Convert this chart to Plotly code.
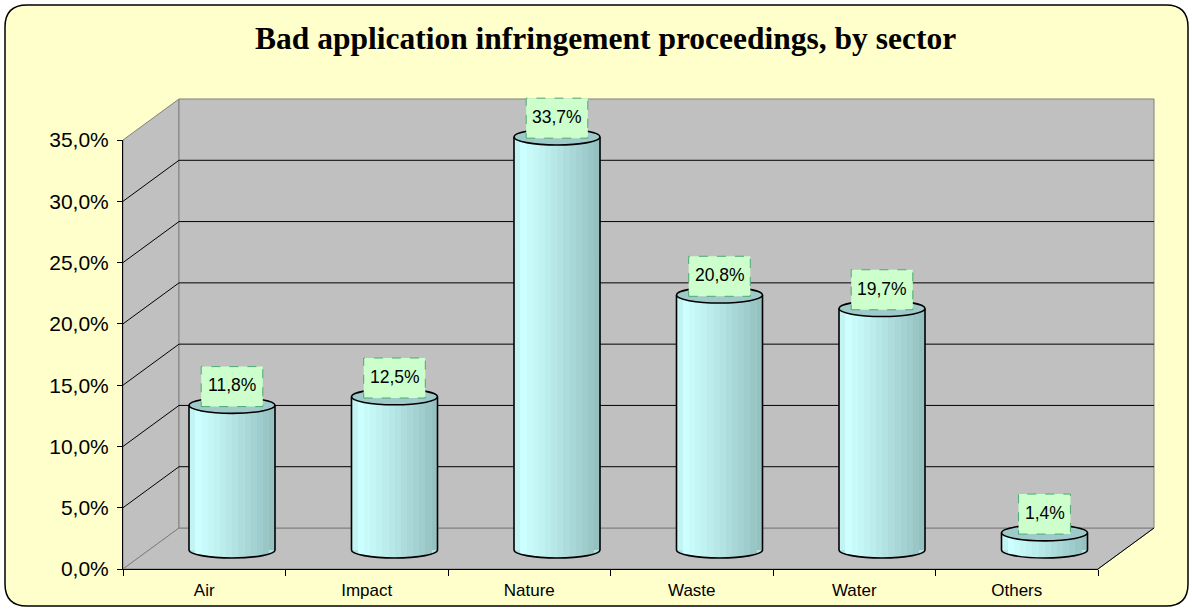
import plotly.graph_objects as go
import math

# ---------------- data ----------------
categories = ["Air", "Impact", "Nature", "Waste", "Water", "Others"]
values = [11.8, 12.5, 33.7, 20.8, 19.7, 1.4]
value_labels = ["11,8%", "12,5%", "33,7%", "20,8%", "19,7%", "1,4%"]
y_ticks = [0, 5, 10, 15, 20, 25, 30, 35]
y_tick_labels = ["0,0%", "5,0%", "10,0%", "15,0%", "20,0%", "25,0%", "30,0%", "35,0%"]
title_text = "Bad application infringement proceedings, by sector"

# ---------------- geometry (pixels) ----------------
W, H = 1192, 611
FX0, FX1 = 123, 1098      # front plane x extent
FY0 = 569                 # front plane y of 0
S = 12.257                # px per percentage point
DX, DY = 56, 41           # depth offset of the back wall
MID_X0 = 150.75           # mid-depth plane (cylinders)
MID_Y0 = 550
Y3_MIN, Y3_MAX = -3, 38


def px(x):
    return x / W


def py(y):
    return 1 - y / H


def yf(v):
    return FY0 - v * S


ymax = max(y_ticks)
n = len(categories)
cat_w = (FX1 - FX0) / n

fig = go.Figure()

# helper invisible trace so the front category axis renders
fig.add_trace(go.Scatter(x=categories, y=[0] * n, mode="markers",
                         marker=dict(opacity=0), hoverinfo="skip",
                         showlegend=False, xaxis="x", yaxis="y"))

# ---------------- cylinders as banded bars ----------------
hw = 43 / cat_w                # half width of cylinder in category units
k = 8 / S                      # ellipse half-height in value units
NB = 14
bw = 2 * hw / NB
xs = list(range(n))


def band_color(t):
    stops = [(0.0, (0xBE, 0xEE, 0xEE)), (0.1, (0xCC, 0xFF, 0xFF)),
             (0.35, (0xBF, 0xF0, 0xF0)), (1.0, (0x93, 0xBE, 0xBE))]
    for (t0, c0), (t1, c1) in zip(stops[:-1], stops[1:]):
        if t <= t1:
            f = (t - t0) / (t1 - t0)
            return "rgb(%d,%d,%d)" % tuple(round(a + (b - a) * f) for a, b in zip(c0, c1))
    return "rgb(%d,%d,%d)" % stops[-1][1]


for j in range(NB):
    a = -hw + j * bw
    b = a + bw
    m = min(max(abs(a), abs(b)) / hw, 1.0)
    base = -k * math.sqrt(max(0.0, 1 - m * m)) * 0.97
    fig.add_trace(go.Bar(
        x=xs, y=[v - base for v in values], base=base,
        width=bw * 1.02, offset=a,
        marker=dict(color=band_color((j + 0.5) / NB), line=dict(width=0)),
        hoverinfo="skip", showlegend=False, xaxis="x3", yaxis="y3"))

shapes = []

# outer rounded frame
x0, y0, x1, y1, r = 5, 5, 1188, 606, 22
path = (f"M {px(x0 + r)},{py(y0)} L {px(x1 - r)},{py(y0)} Q {px(x1)},{py(y0)} {px(x1)},{py(y0 + r)} "
        f"L {px(x1)},{py(y1 - r)} Q {px(x1)},{py(y1)} {px(x1 - r)},{py(y1)} "
        f"L {px(x0 + r)},{py(y1)} Q {px(x0)},{py(y1)} {px(x0)},{py(y1 - r)} "
        f"L {px(x0)},{py(y0 + r)} Q {px(x0)},{py(y0)} {px(x0 + r)},{py(y0)} Z")
shapes.append(dict(type="path", xref="paper", yref="paper", path=path,
                   fillcolor="#FFFFCC", line=dict(color="#000000", width=1.5), layer="below"))


def poly(pts, fill, line_color, lw=1):
    p = "M " + " L ".join(f"{px(x)},{py(y)}" for x, y in pts) + " Z"
    return dict(type="path", xref="paper", yref="paper", path=p, fillcolor=fill,
                line=dict(color=line_color, width=lw), layer="below")


top_f = yf(ymax)
shapes.append(poly([(FX0, FY0), (FX0, top_f), (FX0 + DX, top_f - DY), (FX0 + DX, FY0 - DY)],
                   "#C0C0C0", "#808080"))
shapes.append(poly([(FX0, FY0), (FX0 + DX, FY0 - DY), (FX1 + DX, FY0 - DY), (FX1, FY0)],
                   "#C0C0C0", "#808080"))
shapes.append(poly([(FX0 + DX, FY0 - DY), (FX0 + DX, top_f - DY), (FX1 + DX, top_f - DY),
                    (FX1 + DX, FY0 - DY)], "#C0C0C0", "#808080"))


def seg(xa, ya, xb, yb, color, lw=1):
    return dict(type="line", xref="paper", yref="paper", x0=px(xa), y0=py(ya), x1=px(xb), y1=py(yb),
                line=dict(color=color, width=lw), layer="below")


for v in y_ticks[1:-1]:
    yy = yf(v)
    shapes.append(seg(FX0 + DX, yy - DY, FX1 + DX, yy - DY, "#000000"))
    shapes.append(seg(FX0, yy, FX0 + DX, yy - DY, "#000000"))
shapes.append(seg(FX1, FY0, FX1 + DX, FY0 - DY, "#000000"))

# cylinder bottoms (fill), outlines, tops
kap = 0.5523
for i, v in enumerate(values):
    L, R, c = i - hw, i + hw, i
    bottom = (f"M {L},0 C {L},{-kap * k} {c - kap * hw},{-k} {c},{-k} "
              f"C {c + kap * hw},{-k} {R},{-kap * k} {R},0")
    shapes.append(dict(type="path", xref="x3", yref="y3", path=bottom + " Z",
                       fillcolor="#B4E4E4", line=dict(width=0), layer="below"))
    outline = (f"M {L},{v} L {L},0 C {L},{-kap * k} {c - kap * hw},{-k} {c},{-k} "
               f"C {c + kap * hw},{-k} {R},{-kap * k} {R},0 L {R},{v}")
    shapes.append(dict(type="path", xref="x3", yref="y3", path=outline,
                       line=dict(color="#000000", width=1.6), layer="above"))
    shapes.append(dict(type="circle", xref="x3", yref="y3", x0=L, x1=R, y0=v - k, y1=v + k,
                       fillcolor="#9FCACA", line=dict(color="#000000", width=1.6), layer="above"))

# data label boxes
annotations = []
lab_font = 17.5
char_w = {",": 0.278, "%": 0.889}
box_h = 40 / S
for i, (v, t) in enumerate(zip(values, value_labels)):
    wpx = 12 + lab_font * sum(char_w.get(ch, 0.556) for ch in t)
    half = wpx / 2 / cat_w
    shapes.append(dict(type="rect", xref="x3", yref="y3", x0=i - half, x1=i + half,
                       y0=v - 0.1, y1=v - 0.1 + box_h, fillcolor="#CCFFCC",
                       line=dict(color="#4FA874", width=1, dash="dash"), layer="above"))
    annotations.append(dict(x=i, y=v - 0.1 + box_h / 2 + 0.1, xref="x3", yref="y3", text=t,
                            showarrow=False, font=dict(size=lab_font, color="#000000"),
                            xanchor="center", yanchor="middle"))

annotations.append(dict(x=px(605), y=py(38), xref="paper", yref="paper",
                        text="<b>" + title_text + "</b>", showarrow=False,
                        font=dict(family="Liberation Serif, Times New Roman, serif", size=31.5,
                                  color="#000000"),
                        xanchor="center", yanchor="middle"))

fig.update_layout(
    template="none",
    width=W, height=H, autosize=False,
    margin=dict(l=0, r=0, t=0, b=0, pad=0, autoexpand=False),
    paper_bgcolor="#FFFFFF", plot_bgcolor="rgba(0,0,0,0)",
    font=dict(family="Liberation Sans, Arial, sans-serif", color="#000000"),
    barmode="overlay", bargap=0,
    showlegend=False,
    shapes=shapes, annotations=annotations,
    xaxis=dict(type="category", categoryorder="array", categoryarray=categories,
               domain=[px(FX0), px(FX1)], range=[-0.5, n - 0.5], anchor="y",
               showline=True, linecolor="#000000", linewidth=1, automargin=False,
               ticks="outside", tickson="boundaries", ticklen=6, tickcolor="#000000",
               tickfont=dict(size=17), ticklabelstandoff=6,
               showgrid=False, zeroline=False, fixedrange=True),
    yaxis=dict(domain=[py(FY0), py(yf(ymax))], range=[0, ymax], anchor="x",
               tickmode="array", tickvals=y_ticks, ticktext=y_tick_labels,
               showline=True, linecolor="#000000", linewidth=1, automargin=False,
               ticks="outside", ticklen=5, tickcolor="#000000",
               tickfont=dict(size=21), ticklabelstandoff=4,
               showgrid=False, zeroline=False, fixedrange=True),
    xaxis3=dict(domain=[px(MID_X0), px(MID_X0 + n * cat_w)], range=[-0.5, n - 0.5],
                anchor="y3", visible=False, fixedrange=True, automargin=False),
    yaxis3=dict(domain=[py(MID_Y0 - Y3_MIN * S), py(MID_Y0 - Y3_MAX * S)], range=[Y3_MIN, Y3_MAX],
                anchor="x3", visible=False, fixedrange=True, automargin=False),
)

fig.write_html("out.html", config={"responsive": False, "displayModeBar": False},
               post_script="document.body.style.margin='0px';")
